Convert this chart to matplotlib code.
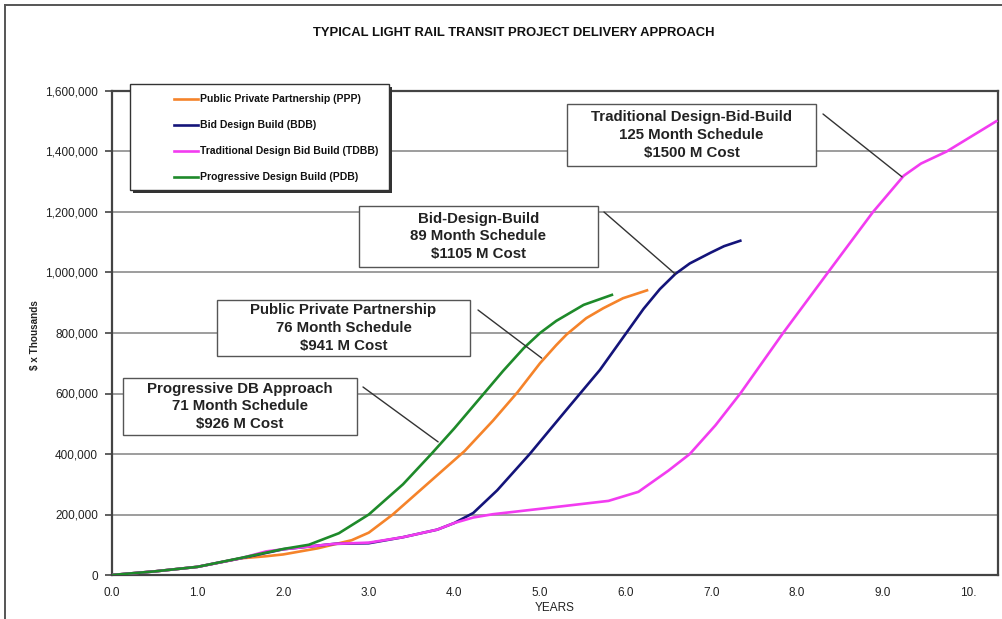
import matplotlib
matplotlib.use("Agg")
import matplotlib.pyplot as plt
from matplotlib.patches import Rectangle
from matplotlib.lines import Line2D

plt.rcParams['font.family'] = ['Liberation Sans', 'DejaVu Sans']

# ---------------- data ($ x Thousands) ----------------
title = "TYPICAL LIGHT RAIL TRANSIT PROJECT DELIVERY APPROACH"
series_names = ["Public Private Partnership (PPP)", "Bid Design Build (BDB)",
                "Traditional Design Bid Build (TDBB)", "Progressive Design Build (PDB)"]

ppp_years = [0, 0.5, 1.0, 1.5, 1.8, 2.0, 2.4, 2.8, 3.0, 3.28, 3.5, 3.8, 4.12, 4.45,
             4.74, 5.0, 5.19, 5.31, 5.54, 5.74, 5.97, 6.25]
ppp_vals = [0, 12, 27, 55, 62, 68, 88, 115, 140, 200, 255, 330, 410, 510,
            605, 700, 760, 795, 849, 882, 915, 941]

bdb_years = [0, 0.5, 1.0, 1.5, 2.0, 2.6, 3.0, 3.4, 3.8, 4.0, 4.22, 4.5, 4.88, 5.1, 5.35,
             5.70, 5.97, 6.21, 6.40, 6.58, 6.75, 6.99, 7.15, 7.34]
bdb_vals = [0, 12, 27, 55, 85, 103, 105, 125, 150, 172, 205, 280, 400, 475, 560,
            678, 785, 880, 945, 995, 1030, 1065, 1087, 1105]

tdbb_years = [0, 0.5, 1.0, 1.5, 1.8, 2.0, 2.6, 3.0, 3.4, 3.8, 4.0, 4.22, 4.45, 4.7, 5.1, 5.8,
              6.15, 6.5, 6.75, 7.05, 7.34, 7.84, 8.39, 8.89, 9.25, 9.45, 9.75, 10.33]
tdbb_vals = [0, 12, 27, 55, 78, 85, 103, 107, 125, 150, 172, 190, 201, 209, 222, 245,
             275, 345, 400, 495, 600, 800, 1010, 1200, 1320, 1360, 1400, 1500]

pdb_years = [0, 0.5, 1.0, 1.5, 2.0, 2.3, 2.65, 3.0, 3.2, 3.4, 3.73, 4.0, 4.3, 4.57,
             4.81, 5.0, 5.19, 5.51, 5.84]
pdb_vals = [0, 12, 27, 56, 86, 100, 138, 200, 250, 300, 400, 485, 585, 675,
            750, 800, 840, 893, 926]

x_ticks = [0, 1, 2, 3, 4, 5, 6, 7, 8, 9, 10]
x_tick_labels = ["0.0", "1.0", "2.0", "3.0", "4.0", "5.0", "6.0", "7.0", "8.0", "9.0", "10."]
y_ticks = [0, 200000, 400000, 600000, 800000, 1000000, 1200000, 1400000, 1600000]

callouts = [
    ("Traditional Design-Bid-Build\n125 Month Schedule\n$1500 M Cost", 9.23, 1316000),
    ("Bid-Design-Build\n89 Month Schedule\n$1105 M Cost", 6.58, 995000),
    ("Public Private Partnership\n76 Month Schedule\n$941 M Cost", 5.02, 717000),
    ("Progressive DB Approach\n71 Month Schedule\n$926 M Cost", 3.81, 440000),
]

colors = ["#f5832a", "#14147a", "#f23cf0", "#1e8a2a"]

# ---------------- layout helpers ----------------
W, H = 1003, 619
def fx(x):
    return x / W
def fy(y):
    return 1 - y / H

fig = plt.figure(figsize=(W / 100, H / 100), dpi=100)
fig.patch.set_facecolor("white")

# outer frame
fig.add_artist(Line2D([fx(5), fx(5)], [fy(5), fy(619)], color="#555555", lw=1.4))
fig.add_artist(Line2D([fx(5), fx(1003)], [fy(5), fy(5)], color="#555555", lw=1.4))

ax = fig.add_axes([fx(112), fy(575), fx(998) - fx(112), fy(91) - fy(575)])
ax.set_xlim(0, 886 / 85.6)
ax.set_ylim(0, 1600000)

def th(v):
    return [a * 1000 for a in v]

lw = 1.9
ax.plot(ppp_years, th(ppp_vals), color=colors[0], lw=lw, zorder=3)
ax.plot(bdb_years, th(bdb_vals), color=colors[1], lw=lw, zorder=3)
ax.plot(tdbb_years, th(tdbb_vals), color=colors[2], lw=lw, zorder=3)
ax.plot(pdb_years, th(pdb_vals), color=colors[3], lw=lw, zorder=4)

ax.set_xticks(x_ticks)
ax.set_xticklabels(x_tick_labels)
ax.set_yticks(y_ticks)
ax.set_yticklabels([f"{v:,}" for v in y_ticks])
ax.tick_params(axis="x", length=0, pad=9, labelsize=8.5, labelcolor="#222222")
ax.tick_params(axis="y", length=5, width=1.2, color="#444444", direction="out",
               pad=5, labelsize=8.5, labelcolor="#222222")
ax.yaxis.grid(True, color="#8c8c8c", lw=1.2, zorder=1)
ax.set_axisbelow(True)
for s in ax.spines.values():
    s.set_color("#444444")
    s.set_linewidth(1.6)

ax.set_xlabel("YEARS", fontsize=8.5, color="#222222", labelpad=2)
fig.text(fx(35), fy(335), "$ x Thousands", rotation=90, ha="center", va="center",
         fontsize=7.2, fontweight="bold", color="#222222")

fig.text(fx(514), fy(33), title, ha="center", va="center", fontsize=9.4,
         fontweight="bold", color="#111111")

# ---------------- legend (manual) ----------------
lx0, ly0, lx1, ly1 = 130, 84, 389, 190
fig.add_artist(Rectangle((fx(lx0 + 3), fy(ly1 + 3)), fx(lx1) - fx(lx0), fy(ly0) - fy(ly1),
                         transform=fig.transFigure, facecolor="#333333",
                         edgecolor="none", zorder=5))
fig.add_artist(Rectangle((fx(lx0), fy(ly1)), fx(lx1) - fx(lx0), fy(ly0) - fy(ly1),
                         transform=fig.transFigure, facecolor="white",
                         edgecolor="#333333", lw=1.0, zorder=6))
rows = [99, 125, 151, 177]
for name, c, ry in zip(series_names, colors, rows):
    fig.add_artist(Line2D([fx(174), fx(198)], [fy(ry), fy(ry)], color=c, lw=lw, zorder=7))
    fig.text(fx(200), fy(ry), name, ha="left", va="center", fontsize=7.5,
             fontweight="bold", color="#111111", zorder=7)

# ---------------- callout boxes ----------------
boxes = [(567, 104, 816, 166), (359, 206, 598, 267), (217, 300, 470, 356), (123, 378, 357, 435)]
starts = [(823, 114), (604, 212), (478, 310), (363, 387)]
for (txt, xd, yd), (bx0, by0, bx1, by1), (sx, sy) in zip(callouts, boxes, starts):
    fig.add_artist(Rectangle((fx(bx0), fy(by1)), fx(bx1) - fx(bx0), fy(by0) - fy(by1),
                             transform=fig.transFigure, facecolor="white",
                             edgecolor="#555555", lw=1.0, zorder=6))
    fig.text(fx((bx0 + bx1) / 2), fy((by0 + by1) / 2), txt, ha="center", va="center",
             fontsize=10.8, fontweight="bold", color="#222222", linespacing=1.33,
             multialignment="center", zorder=7)
    ax.annotate("", xy=(xd, yd), xycoords="data",
                xytext=(fx(sx), fy(sy)), textcoords="figure fraction",
                arrowprops=dict(arrowstyle="-", color="#333333", lw=1.0,
                                shrinkA=0, shrinkB=0), zorder=5)

fig.savefig("out.png", dpi=100, facecolor="white")
